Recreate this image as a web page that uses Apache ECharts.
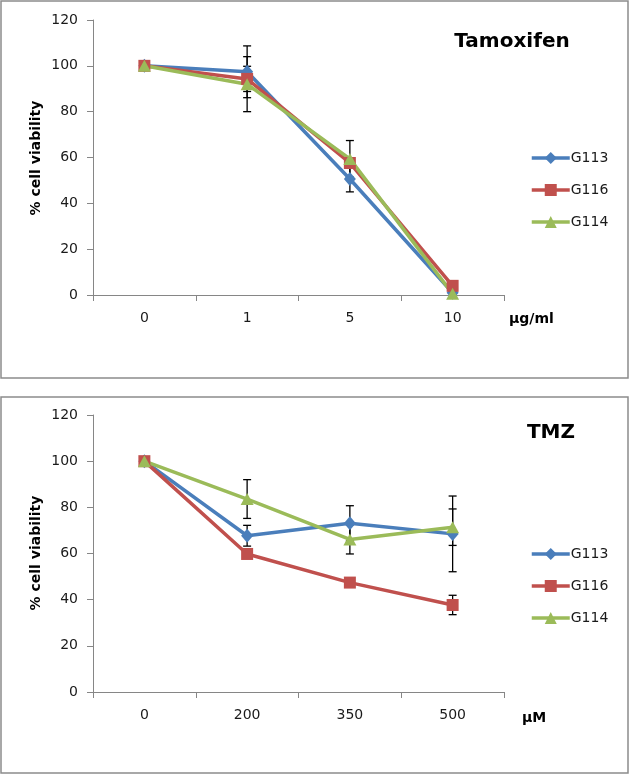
<!DOCTYPE html>
<html>
<head>
<meta charset="utf-8">
<script src="https://cdn.jsdelivr.net/npm/echarts@6/dist/echarts.min.js"></script>
<style>html,body{margin:0;padding:0;background:#fff}#c{width:630px;height:775px}</style>
</head>
<body>
<div id="c"></div>
<script>
// ---- data ----
const seriesNames = ['G113', 'G116', 'G114'];
const tamCategories = ['0', '1', '5', '10'];
const tmzCategories = ['0', '200', '350', '500'];
const yTicks = [0, 20, 40, 60, 80, 100, 120];

const tamG113 = [100, 97.4, 50.6, 1];
const tamG116 = [100, 94.3, 57.6, 4];
const tamG114 = [100, 92, 59.4, 0.5];
const tamErrG113 = [0, 11.3, 5.6, 0];
const tamErrG116 = [0, 5.5, 0, 0];
const tamErrG114 = [0, 12, 8, 0];

const tmzG113 = [100, 67.7, 73.1, 68.5];
const tmzG116 = [100, 59.8, 47.4, 37.7];
const tmzG114 = [100, 83.6, 66.1, 71.4];
const tmzErrG113 = [0, 4.5, 7.6, 16.4];
const tmzErrG116 = [0, 0, 0, 4.2];
const tmzErrG114 = [0, 8.4, 6.3, 7.9];

// ---- styles ----
const colors = {G113: '#4A7EBB', G116: '#C0504D', G114: '#9BBB59'};
const symbols = {G113: 'diamond', G116: 'rect', G114: 'triangle'};
const symbolSizes = {G113: [12, 14], G116: 12, G114: [13, 12]};
const FONT = 'DejaVu Sans';
const axisGray = '#868686';

function lineSeries(name, data, gi) {
  return {
    type: 'line', name: name, data: data,
    xAxisIndex: gi, yAxisIndex: gi,
    symbol: symbols[name], symbolSize: symbolSizes[name],
    lineStyle: {color: colors[name], width: 3.5},
    itemStyle: {color: colors[name]},
    z: 3, animation: false
  };
}
function errSeries(vals, errs, gi) {
  return {
    type: 'custom', name: 'err' + gi,
    xAxisIndex: gi, yAxisIndex: gi, z: 2, silent: true, animation: false,
    data: vals.map((v, i) => [i, v, errs[i]]),
    renderItem: function (params, api) {
      const i = api.value(0), v = api.value(1), e = api.value(2);
      if (!e) return null;
      const top = api.coord([i, v + e]);
      const bot = api.coord([i, v - e]);
      const hw = 4;
      const st = {stroke: '#000', lineWidth: 1.3};
      return {type: 'group', children: [
        {type: 'line', shape: {x1: top[0], y1: top[1], x2: bot[0], y2: bot[1]}, style: st},
        {type: 'line', shape: {x1: top[0] - hw, y1: top[1], x2: top[0] + hw, y2: top[1]}, style: st},
        {type: 'line', shape: {x1: bot[0] - hw, y1: bot[1], x2: bot[0] + hw, y2: bot[1]}, style: st}
      ]};
    }
  };
}
function xAxis(cats, gi) {
  return {
    type: 'category', data: cats, gridIndex: gi, boundaryGap: true,
    axisLine: {lineStyle: {color: axisGray, width: 1}},
    axisTick: {show: true, alignWithLabel: false, interval: 0, length: 6, lineStyle: {color: axisGray}},
    axisLabel: {margin: 16, fontSize: 14, color: '#1a1a1a', fontFamily: FONT},
    splitLine: {show: false}
  };
}
function yAxis(gi) {
  return {
    type: 'value', gridIndex: gi, min: yTicks[0], max: yTicks[yTicks.length - 1], interval: 20,
    axisLine: {show: true, lineStyle: {color: axisGray, width: 1}},
    axisTick: {show: true, length: 6, lineStyle: {color: axisGray}},
    axisLabel: {margin: 15, fontSize: 14, color: '#1a1a1a', fontFamily: FONT},
    splitLine: {show: false}
  };
}
function legend(top) {
  return {
    orient: 'vertical', left: 530, top: top, padding: 0,
    data: seriesNames, itemWidth: 38, itemHeight: 15, itemGap: 18,
    lineStyle: {width: 3.5},
    textStyle: {fontSize: 14, color: '#1a1a1a', fontFamily: FONT, padding: [0, 0, 0, -4]},
    selectedMode: false
  };
}
function txt(x, y, text, size, opts) {
  return Object.assign({
    type: 'text', x: x, y: y,
    style: Object.assign({text: text, fill: '#000', font: 'bold ' + size + 'px "' + FONT + '"',
      textAlign: 'center', textVerticalAlign: 'middle'}, (opts && opts.style) || {})
  }, (opts && opts.el) || {});
}

const chart = echarts.init(document.getElementById('c'), null, {renderer: 'canvas'});
chart.setOption({
  backgroundColor: '#fff',
  animation: false,
  grid: [
    {left: 93, top: 20, width: 411, height: 275},
    {left: 93, top: 415, width: 411, height: 277}
  ],
  xAxis: [xAxis(tamCategories, 0), xAxis(tmzCategories, 1)],
  yAxis: [yAxis(0), yAxis(1)],
  legend: [legend(151), legend(547)],
  series: [
    errSeries(tamG113, tamErrG113, 0),
    errSeries(tamG116, tamErrG116, 0),
    errSeries(tamG114, tamErrG114, 0),
    lineSeries('G113', tamG113, 0),
    lineSeries('G116', tamG116, 0),
    lineSeries('G114', tamG114, 0),
    errSeries(tmzG113, tmzErrG113, 1),
    errSeries(tmzG116, tmzErrG116, 1),
    errSeries(tmzG114, tmzErrG114, 1),
    lineSeries('G113', tmzG113, 1),
    lineSeries('G116', tmzG116, 1),
    lineSeries('G114', tmzG114, 1)
  ],
  graphic: [
    {type: 'rect', shape: {x: 1, y: 1, width: 627, height: 377}, style: {fill: 'none', stroke: '#8c8c8c', lineWidth: 1.5}, z: -1},
    {type: 'rect', shape: {x: 1, y: 397, width: 627, height: 376}, style: {fill: 'none', stroke: '#8c8c8c', lineWidth: 1.5}, z: -1},
    txt(512, 42, 'Tamoxifen', 20),
    txt(551, 433, 'TMZ', 20),
    txt(509, 319, 'μg/ml', 14, {style: {textAlign: 'left'}}),
    txt(522, 718, 'μM', 14, {style: {textAlign: 'left'}}),
    txt(36, 158, '% cell viability', 14, {el: {rotation: Math.PI / 2}}),
    txt(36, 553, '% cell viability', 14, {el: {rotation: Math.PI / 2}})
  ]
});
</script>
</body>
</html>
